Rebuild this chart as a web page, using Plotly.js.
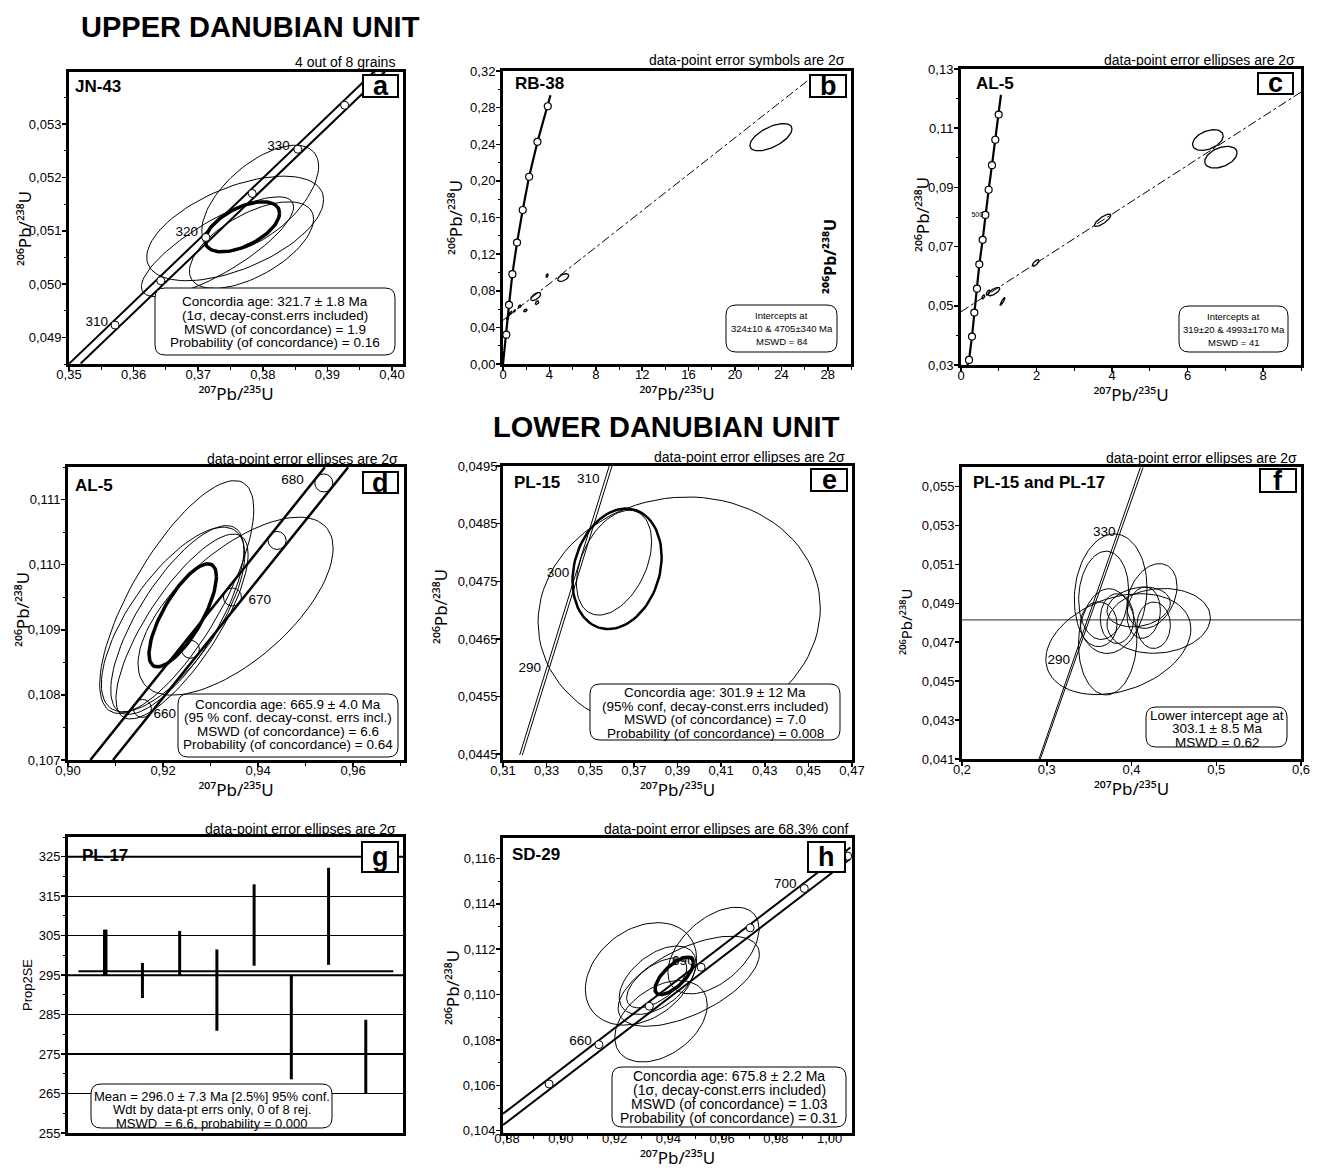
<!DOCTYPE html>
<html><head><meta charset="utf-8">
<script src="https://cdn.plot.ly/plotly-3.0.1.min.js"></script>
<style>html,body{margin:0;padding:0;background:#fff}</style>
</head><body><div id="chart" style="width:1320px;height:1170px"></div>
<script>
// ================= DATA =================
// ---- a: JN-43 ----
const aConc1X = [0.35005, 0.39716], aConc1Y = [0.04851, 0.05398];
const aConc2X = [0.35181, 0.39892], aConc2Y = [0.04851, 0.05398];
const aAgeX = [0.35713, 0.36420, 0.37118, 0.37836, 0.38543, 0.39267, 0.3979];
const aAgeY = [0.049231, 0.050063, 0.050875, 0.0517, 0.052531, 0.053356, 0.05398];
const aLblT = ['310', '320', '330'];
const aLblX = [0.35429, 0.36823, 0.38244];
const aLblY = [0.049275, 0.050963, 0.052575];
const aEllX = [0.37960, 0.37572, 0.37298, 0.37825];
const aEllY = [0.051606, 0.051044, 0.0507, 0.050731];
const aEllSX = [0.00904, 0.01369, 0.01178, 0.00961];
const aEllSY = [0.00100, 0.000981, 0.000938, 0.000813];
const aEllRho = [0.6, 0.55, 0.8, 0.6];
const aMeanX = [0.37683], aMeanY = [0.051075], aMeanSX = [0.00576], aMeanSY = [0.000469], aMeanRho = [0.55];

// ---- b: RB-38 ----
const bConcX = [0, 0.288, 0.519, 0.807, 1.21, 1.70, 2.25, 2.97, 3.86, 4.09];
const bConcY = [0, 0.0320, 0.0646, 0.0981, 0.1326, 0.1682, 0.2045, 0.2426, 0.2815, 0.2935];
const bAgeX = [0.288, 0.519, 0.807, 1.21, 1.70, 2.25, 2.97, 3.86];
const bAgeY = [0.0320, 0.0646, 0.0981, 0.1326, 0.1682, 0.2045, 0.2426, 0.2815];
const bDiscX = [0, 26.85], bDiscY = [0.0478, 0.3153];
const bEllX = [23.10, 5.19, 3.80, 2.82, 2.94, 1.93, 1.44, 0.5, 0.7, 0.4, 1.0];
const bEllY = [0.2477, 0.0944, 0.0966, 0.0737, 0.067, 0.0585, 0.063, 0.054, 0.056, 0.05, 0.058];
const bEllSX = [1.815, 0.475, 0.1, 0.43, 0.15, 0.15, 0.12, 0.12, 0.1, 0.1, 0.08];
const bEllSY = [0.0149, 0.0042, 0.0018, 0.0044, 0.002, 0.0015, 0.0015, 0.002, 0.0015, 0.0015, 0.0012];
const bEllRho = [0.6, 0.5, 0.5, 0.6, 0.5, 0.5, 0.5, 0.5, 0.5, 0.5, 0.5];

// ---- c: AL-5 (discordia) ----
const cConcX = [0.132, 0.212, 0.291, 0.353, 0.423, 0.485, 0.573, 0.644, 0.732, 0.820, 0.908, 0.997, 1.058];
const cConcY = [0.0283, 0.0317, 0.0396, 0.0477, 0.0558, 0.0640, 0.0723, 0.0807, 0.0892, 0.0975, 0.1061, 0.1146, 0.1213];
const cAgeX = [0.212, 0.291, 0.353, 0.423, 0.485, 0.573, 0.644, 0.732, 0.820, 0.908, 0.997];
const cAgeY = [0.0317, 0.0396, 0.0477, 0.0558, 0.0640, 0.0723, 0.0807, 0.0892, 0.0975, 0.1061, 0.1146];
const cDiscX = [0, 9], cDiscY = [0.048, 0.1222];
const cLblT = ['500'], cLblX = [0.432], cLblY = [0.0805];
const cEllX = [6.535, 6.88, 3.75, 1.98, 0.873, 1.10, 0.59, 0.72];
const cEllY = [0.106, 0.1002, 0.0789, 0.0645, 0.0548, 0.0515, 0.053, 0.0545];
const cEllSX = [0.406, 0.428, 0.22, 0.09, 0.155, 0.065, 0.04, 0.05];
const cEllSY = [0.0035, 0.00366, 0.0021, 0.0011, 0.0014, 0.0013, 0.0007, 0.0008];
const cEllRho = [0.4, 0.4, 0.8, 0.7, 0.7, 0.9, 0.6, 0.6];

// ---- d: AL-5 (concordia) ----
const dConc1X = [0.90470, 0.95404], dConc1Y = [0.107, 0.111496];
const dConc2X = [0.90947, 0.95895], dConc2Y = [0.107, 0.111496];
const dAgeX = [0.91565, 0.92575, 0.93460, 0.94400, 0.95382];
const dAgeY = [0.107792, 0.108701, 0.109503, 0.110372, 0.111255];
const dLblT = ['660', '670', '680'];
const dLblX = [0.92035, 0.94035, 0.94723];
const dLblY = [0.1077, 0.10945, 0.111291];
const dEllX = [0.92288, 0.92211, 0.92400, 0.92300, 0.93526];
const dEllY = [0.109503, 0.109158, 0.10905, 0.10915, 0.109363];
const dEllSX = [0.01621, 0.01509, 0.0139, 0.0140, 0.02053];
const dEllSY = [0.001788, 0.001418, 0.00142, 0.00145, 0.001367];
const dEllRho = [0.75, 0.7, 0.78, 0.74, 0.65];
const dMeanX = [0.92414], dMeanY = [0.109222], dMeanSX = [0.00709], dMeanSY = [0.000792], dMeanRho = [0.75];

// ---- e: PL-15 ----
const eConc1X = [0.31766, 0.35869], eConc1Y = [0.044488, 0.0495];
const eConc2X = [0.31888, 0.36000], eConc2Y = [0.044488, 0.0495];
const eLblT = ['310', '300', '290'];
const eLblX = [0.34904, 0.33526, 0.32225];
const eLblY = [0.049263, 0.047635, 0.04599];
const eEllX = [0.39077, 0.36091];
const eEllY = [0.046913, 0.047823];
const eEllSX = [0.0647, 0.01723];
const eEllSY = [0.00205, 0.000909];
const eEllRho = [0.06, 0.4];
const eMeanX = [0.36229], eMeanY = [0.047716], eMeanSX = [0.02044], eMeanSY = [0.001045], eMeanRho = [0.2];

// ---- f: PL-15 and PL-17 ----
const fConc1X = [0.29086, 0.41042], fConc1Y = [0.041, 0.05597];
const fConc2X = [0.29243, 0.41357], fConc2Y = [0.041, 0.05597];
const fRefY = 0.04815;
const fLblT = ['330', '290'];
const fLblX = [0.36794, 0.31406];
const fLblY = [0.052613, 0.04603];
const fEllX = [0.37542, 0.36716, 0.38446, 0.37187, 0.43206, 0.42419, 0.40846, 0.36126, 0.38289, 0.42615, 0.41435];
const fEllY = [0.049492, 0.049407, 0.0469, 0.047019, 0.048094, 0.049373, 0.04881, 0.047923, 0.048213, 0.047872, 0.04852];
const fEllSX = [0.04287, 0.0295, 0.08555, 0.0344, 0.061, 0.0295, 0.03737, 0.02163, 0.01967, 0.01967, 0.01967];
const fEllSY = [0.003069, 0.002268, 0.002592, 0.002728, 0.001663, 0.001663, 0.001023, 0.001151, 0.001279, 0.001194, 0.00132];
const fEllRho = [0.1, 0.1, 0.3, 0.05, 0.1, 0.3, 0.2, 0.0, 0.0, 0.0, 0.1];

// ---- g: PL-17 weighted mean ----
const gIdx = [1, 2, 3, 4, 5, 6, 7, 8];
const gLo = [294.9, 289.2, 294.9, 280.9, 297.4, 268.6, 297.6, 264.9];
const gHi = [306.5, 298.1, 306.2, 301.5, 318.0, 295.0, 322.2, 283.7];
const gMean = 296.0;
const gMeanSpan = [0.28, 8.74];
const gRef = [295, 325];

// ---- h: SD-29 ----
const hConc1X = [0.87851, 1.00770], hConc1Y = [0.10475, 0.116485];
const hConc2X = [0.87851, 1.00770], hConc2Y = [0.10425, 0.115985];
const hAgeX = [0.89565, 0.91416, 0.93292, 0.95217, 0.97043, 0.99056, 1.00671];
const hAgeY = [0.106059, 0.107794, 0.109485, 0.111206, 0.112941, 0.114676, 0.116103];
const hLblT = ['700', '660', '690'];
const hLblX = [0.98348, 0.90733, 0.94559];
const hLblY = [0.114853, 0.107941, 0.111471];
const hEllX = [0.92981, 0.95677, 0.93727, 0.94758, 0.93602, 0.93565];
const hEllY = [0.110912, 0.11194, 0.108824, 0.110588, 0.110632, 0.110515];
const hEllSX = [0.02068, 0.01696, 0.0172, 0.02627, 0.01429, 0.01118];
const hEllSY = [0.002257, 0.00191, 0.001794, 0.001985, 0.001507, 0.0011];
const hEllRho = [0.3, 0.5, 0.4, 0.6, 0.5, 0.6];
const hMeanX = [0.94217], hMeanY = [0.110824], hMeanSX = [0.00714], hMeanSY = [0.000824], hMeanRho = [0.7];

// ================= LAYOUT / DRAWING =================
const W = 1320, H = 1170;
const FONT = 'Liberation Sans, Arial, Helvetica, sans-serif';
const TFONT = 'Noto Sans, DejaVu Sans, sans-serif';
const PX = v => v / W, PY = v => 1 - v / H;
const nm = n => (n === 1 ? '' : String(n));

const traces = [];
function line(n, x, y, width, dash, color) {
  traces.push({type: 'scatter', mode: 'lines', x, y, xaxis: 'x' + nm(n), yaxis: 'y' + nm(n),
    line: {color: color || '#000', width, dash: dash || 'solid'}, hoverinfo: 'skip', showlegend: false, cliponaxis: true});
}
function ellipses(n, cx, cy, sx, sy, rho, width) {
  const xs = [], ys = [];
  for (let i = 0; i < cx.length; i++) {
    const r = rho[i], q = Math.sqrt(1 - r * r);
    for (let k = 0; k <= 90; k++) {
      const t = 2 * Math.PI * k / 90;
      xs.push(cx[i] + sx[i] * Math.cos(t));
      ys.push(cy[i] + sy[i] * (r * Math.cos(t) + q * Math.sin(t)));
    }
    xs.push(null); ys.push(null);
  }
  line(n, xs, ys, width);
}
function markers(n, x, y, size, fill, lw) {
  traces.push({type: 'scatter', mode: 'markers', x, y, xaxis: 'x' + nm(n), yaxis: 'y' + nm(n),
    marker: {symbol: 'circle', size, color: fill, line: {color: '#000', width: lw}}, hoverinfo: 'skip', showlegend: false, cliponaxis: true});
}
function labels(n, x, y, t, size) {
  traces.push({type: 'scatter', mode: 'text', x, y, text: t, textposition: 'middle center', xaxis: 'x' + nm(n), yaxis: 'y' + nm(n),
    textfont: {family: FONT, size: size || 13, color: '#000'}, hoverinfo: 'skip', showlegend: false, cliponaxis: false});
}

// a
line(1, aConc1X, aConc1Y, 2); line(1, aConc2X, aConc2Y, 2);
ellipses(1, aEllX, aEllY, aEllSX, aEllSY, aEllRho, 1);
ellipses(1, aMeanX, aMeanY, aMeanSX, aMeanSY, aMeanRho, 3.5);
markers(1, aAgeX, aAgeY, 8, '#fff', 1);
labels(1, aLblX, aLblY, aLblT, 13.5);
// b
line(2, bDiscX, bDiscY, 1, 'dashdot');
line(2, bConcX, bConcY, 2.2);
ellipses(2, bEllX, bEllY, bEllSX, bEllSY, bEllRho, 1.3);
markers(2, bAgeX, bAgeY, 7, '#fff', 1.2);
// c
line(3, cDiscX, cDiscY, 1, 'dashdot');
line(3, cConcX, cConcY, 2.2);
ellipses(3, cEllX, cEllY, cEllSX, cEllSY, cEllRho, 1.3);
markers(3, cAgeX, cAgeY, 7, '#fff', 1.2);
labels(3, cLblX, cLblY, cLblT, 7);
// d
line(4, dConc1X, dConc1Y, 2.5); line(4, dConc2X, dConc2Y, 2.5);
ellipses(4, dEllX, dEllY, dEllSX, dEllSY, dEllRho, 1);
markers(4, dAgeX, dAgeY, 18, 'rgba(0,0,0,0)', 1);
ellipses(4, dMeanX, dMeanY, dMeanSX, dMeanSY, dMeanRho, 3.5);
labels(4, dLblX, dLblY, dLblT, 13.5);
// e
line(5, eConc1X, eConc1Y, 1); line(5, eConc2X, eConc2Y, 1);
ellipses(5, eEllX, eEllY, eEllSX, eEllSY, eEllRho, 1);
ellipses(5, eMeanX, eMeanY, eMeanSX, eMeanSY, eMeanRho, 2.5);
labels(5, eLblX, eLblY, eLblT, 13.5);
// f
line(6, [0.2, 0.6], [fRefY, fRefY], 1.2, 'solid', '#555');
line(6, fConc1X, fConc1Y, 1); line(6, fConc2X, fConc2Y, 1);
ellipses(6, fEllX, fEllY, fEllSX, fEllSY, fEllRho, 1);
labels(6, fLblX, fLblY, fLblT, 13.5);
// g
gRef.forEach(v => line(7, [0, 9], [v, v], 2));
(function () {
  const xs = [], ys = [];
  gIdx.forEach((k, i) => { xs.push(k, k, null); ys.push(gLo[i], gHi[i], null); });
  line(7, xs, ys, 3);
})();
line(7, [gIdx[0], gIdx[0]], [gLo[0], gHi[0]], 4.5);
line(7, gMeanSpan, [gMean, gMean], 2);
// h
line(8, hConc1X, hConc1Y, 2); line(8, hConc2X, hConc2Y, 2);
labels(8, hLblX, hLblY, hLblT, 13.5);
ellipses(8, hEllX, hEllY, hEllSX, hEllSY, hEllRho, 1);
markers(8, hAgeX, hAgeY, 8, '#fff', 1);
ellipses(8, hMeanX, hMeanY, hMeanSX, hMeanSY, hMeanRho, 3.5);

// panel geometry (pixels) and axes
const XT = '²⁰⁷Pb/²³⁵U', YT = '²⁰⁶Pb/²³⁸U';
const panels = [
  {box: [69, 403, 72, 364], xr: [0.35, 0.4017], yr: [0.0485, 0.05398], x0: 0.35, xd: 0.01, xm: 0.005, y0: 0.049, yd: 0.001, ym: 0.0005, xf: '.2f', yf: '.3f', yt: [25, 229]},
  {box: [503, 851, 71, 364], xr: [0, 30], yr: [0, 0.32], x0: 0, xd: 4, xm: 2, y0: 0, yd: 0.04, ym: 0.02, xf: 'd', yf: '.2f', yt: [455, 218]},
  {box: [961, 1301, 69, 365], xr: [0, 9], yr: [0.03, 0.13], x0: 0, xd: 2, xm: 1, y0: 0.03, yd: 0.02, ym: 0.01, xf: 'd', yf: '.2f', yt: [922, 215]},
  {box: [68, 404, 467, 760], xr: [0.90, 0.9707], yr: [0.107, 0.1115], x0: 0.90, xd: 0.02, xm: 0.01, y0: 0.107, yd: 0.001, ym: 0.0005, xf: '.2f', yf: '.3f', yt: [22, 610]},
  {box: [503, 852, 466, 760], xr: [0.31, 0.47], yr: [0.0444, 0.0495], x0: 0.31, xd: 0.02, xm: null, y0: 0.0445, yd: 0.001, ym: null, xf: '.2f', yf: '.4f', ys: -4, yt: [440, 607]},
  {box: [962, 1301, 467, 759], xr: [0.2, 0.6], yr: [0.041, 0.056], x0: 0.2, xd: 0.1, xm: null, y0: 0.041, yd: 0.002, ym: null, xf: '.1f', yf: '.3f', yt: [906, 622], ytsize: 15},
  {box: [68, 403, 837, 1133], xr: [0, 9], yr: [255, 330], x0: 0, xd: 1, xm: null, y0: 255, yd: 10, ym: 5, xf: 'd', yf: 'd', g: true},
  {box: [503, 852, 838, 1133], xr: [0.8785, 1.0083], yr: [0.1039, 0.1169], x0: 0.88, xd: 0.02, xm: 0.01, y0: 0.104, yd: 0.002, ym: 0.001, xf: '.2f', yf: '.3f', xs: -13, yt: [452, 988]}
];

const layout = {
  width: W, height: H, margin: {l: 0, r: 0, t: 0, b: 0}, paper_bgcolor: '#fff', plot_bgcolor: '#fff',
  separators: ', ', showlegend: false, hovermode: false, font: {family: FONT, color: '#000', size: 13},
  shapes: [], annotations: []
};
function ann(text, x, y, o) {
  layout.annotations.push(Object.assign({text, x: PX(x), y: PY(y), xref: 'paper', yref: 'paper', showarrow: false,
    xanchor: 'center', yanchor: 'middle', font: {family: FONT, size: 13, color: '#000'}}, o || {}));
}
const baseAx = {showline: true, linecolor: '#000', linewidth: 3, mirror: true, ticks: 'outside', ticklen: 4,
  tickwidth: 1.5, tickcolor: '#000', showgrid: false, zeroline: false, fixedrange: true,
  tickfont: {family: FONT, size: 13, color: '#000'}};
panels.forEach((p, i) => {
  const n = i + 1, [l, r, t, b] = p.box;
  const xa = Object.assign({}, baseAx, {domain: [PX(l), PX(r)], range: p.xr, anchor: 'y' + nm(n),
    tick0: p.x0, dtick: p.xd, tickformat: p.xf, ticklabelstandoff: p.xs || -8,
    title: {text: XT, font: {family: TFONT, size: 17, color: '#000'}, standoff: 8}});
  const ya = Object.assign({}, baseAx, {domain: [PY(b), PY(t)], range: p.yr, anchor: 'x' + nm(n),
    tick0: p.y0, dtick: p.yd, tickformat: p.yf, ticklabelstandoff: p.ys || -2});
  if (p.xm) xa.minor = {dtick: p.xm, ticks: 'outside', ticklen: 2.5, tickwidth: 1, tickcolor: '#000', showgrid: false};
  if (p.ym) ya.minor = {dtick: p.ym, ticks: 'outside', ticklen: 2.5, tickwidth: 1, tickcolor: '#000', showgrid: false};
  if (p.g) {
    xa.showticklabels = false; xa.ticks = ''; delete xa.title;
    ya.showgrid = true; ya.gridcolor = '#000'; ya.gridwidth = 1.2;
    ya.title = {text: 'Prop2SE', font: {family: FONT, size: 13, color: '#000'}, standoff: 4};
  } else {
    // y-axis title placed where the reference prints it
    ann(YT, p.yt[0], p.yt[1], {textangle: -90, font: {family: TFONT, size: p.ytsize || 17, color: '#000'}});
  }
  layout['xaxis' + nm(n)] = xa;
  layout['yaxis' + nm(n)] = ya;
});

// decorations
function rbox(x0, y0, x1, y1, r) {
  const X = PX, Y = PY;
  const path = `M ${X(x0 + r)},${Y(y0)} L ${X(x1 - r)},${Y(y0)} Q ${X(x1)},${Y(y0)} ${X(x1)},${Y(y0 + r)} ` +
    `L ${X(x1)},${Y(y1 - r)} Q ${X(x1)},${Y(y1)} ${X(x1 - r)},${Y(y1)} L ${X(x0 + r)},${Y(y1)} ` +
    `Q ${X(x0)},${Y(y1)} ${X(x0)},${Y(y1 - r)} L ${X(x0)},${Y(y0 + r)} Q ${X(x0)},${Y(y0)} ${X(x0 + r)},${Y(y0)} Z`;
  layout.shapes.push({type: 'path', xref: 'paper', yref: 'paper', path, line: {color: '#000', width: 1}, fillcolor: '#fff', layer: 'above'});
}
function letterBox(ch, x0, x1, y0, y1) {
  layout.shapes.push({type: 'rect', xref: 'paper', yref: 'paper', x0: PX(x0), x1: PX(x1), y0: PY(y1), y1: PY(y0),
    line: {color: '#000', width: 2}, fillcolor: '#fff', layer: 'above'});
  ann('<b>' + ch + '</b>', (x0 + x1) / 2, (y0 + y1) / 2, {font: {family: FONT, size: 27, color: '#000'}});
}
function statBox(lines, x0, x1, y0, y1, ys, size) {
  rbox(x0, y0, x1, y1, 10);
  lines.forEach((t, i) => ann(t, (x0 + x1) / 2, ys[i], {font: {family: FONT, size: size, color: '#000'}}));
}

ann('<b>UPPER DANUBIAN UNIT</b>', 250, 27, {font: {family: FONT, size: 29, color: '#000'}});
ann('<b>LOWER DANUBIAN UNIT</b>', 667, 427, {font: {family: FONT, size: 29, color: '#000'}});

const caps = [
  ['4 out of 8 grains', 397, 62], ['data-point error symbols are 2σ', 847, 60], ['data-point error ellipses are 2σ', 1297, 60],
  ['data-point error ellipses are 2σ', 400, 459], ['data-point error ellipses are 2σ', 847, 457], ['data-point error ellipses are 2σ', 1299, 458],
  ['data-point error ellipses are 2σ', 398, 829], ['data-point error ellipses are 68.3% conf', 850, 829]
];
caps.forEach(c => ann(c[0], c[1], c[2], {xanchor: 'right', font: {family: FONT, size: 14, color: '#000'}}));

const names = [['JN-43', 73, 87], ['RB-38', 513, 84], ['AL-5', 974, 84], ['AL-5', 73, 485],
  ['PL-15', 512, 482], ['PL-15 and PL-17', 971, 482], ['PL-17', 80, 855], ['SD-29', 510, 854]];
names.forEach(c => ann('<b>' + c[0] + '</b>', c[1], c[2], {xanchor: 'left', font: {family: FONT, size: 17, color: '#000'}}));

letterBox('a', 363, 398, 75, 97);
letterBox('b', 810, 846, 75, 97);
letterBox('c', 1258, 1293, 73, 94);
letterBox('d', 363, 398, 472, 493);
letterBox('e', 811, 847, 469, 491);
letterBox('f', 1260, 1296, 469, 492);
letterBox('g', 362, 398, 842, 872);
letterBox('h', 808, 845, 842, 872);

statBox(['Concordia age: 321.7 ± 1.8 Ma', '(1σ, decay-const.errs included)', 'MSWD (of concordance) = 1.9', 'Probability (of concordance) = 0.16'],
  155, 395, 288, 355, [302, 315.5, 329, 342.5], 13.5);
statBox(['Intercepts at', '324±10 & 4705±340 Ma', 'MSWD = 84'], 726, 837, 305, 352, [316, 328.5, 341], 9.5);
statBox(['Intercepts at', '319±20 & 4993±170 Ma', 'MSWD = 41'], 1179, 1288, 306, 352, [317, 329.5, 342], 9.5);
statBox(['Concordia age: 665.9 ± 4.0 Ma', '(95 % conf. decay-const. errs incl.)', 'MSWD (of concordance) = 6.6', 'Probability (of concordance) = 0.64'],
  178, 398, 694, 757, [704, 717.5, 731, 744.5], 13.5);
statBox(['Concordia age: 301.9 ± 12 Ma', '(95% conf, decay-const.errs included)', 'MSWD (of concordance) = 7.0', 'Probability (of concordance) = 0.008'],
  590, 840, 684, 740, [692.5, 706, 719.5, 733], 13.5);
statBox(['Lower intercept age at', '303.1 ± 8.5 Ma', 'MSWD = 0.62'], 1146, 1287, 707, 747, [715, 728.5, 742], 13.5);
statBox(['Mean = 296.0 ± 7.3 Ma [2.5%] 95% conf.', 'Wdt by data-pt errs only, 0 of 8 rej.', 'MSWD  = 6.6, probability = 0.000'],
  91, 332, 1084, 1128, [1096, 1109.5, 1123], 13);
statBox(['Concordia age: 675.8 ± 2.2 Ma', '(1σ, decay-const.errs included)', 'MSWD (of concordance) = 1.03', 'Probability (of concordance) = 0.31'],
  612, 846, 1067, 1127, [1076, 1090, 1104, 1118], 14);

// stray rotated axis label inside panel b
ann('<b>' + YT + '</b>', 830, 257, {textangle: -90, font: {family: TFONT, size: 16, color: '#000'}});

Plotly.newPlot('chart', traces, layout, {staticPlot: true, displayModeBar: false});
</script>
</body></html>
